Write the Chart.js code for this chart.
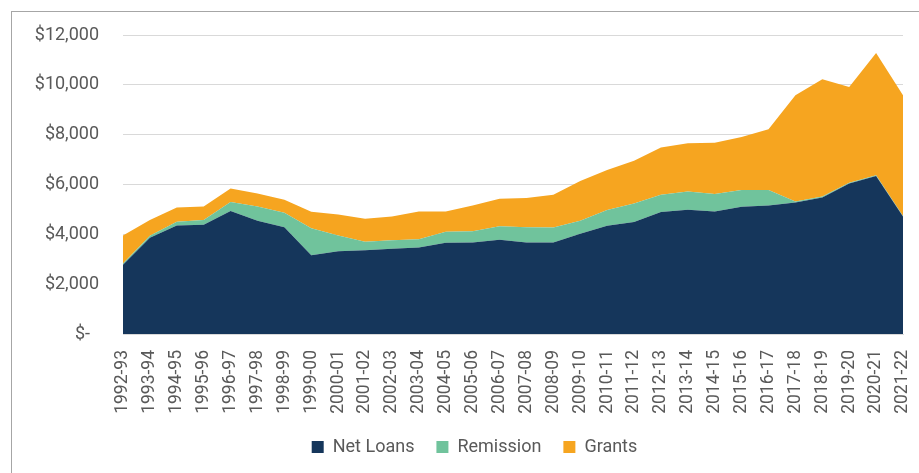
<!DOCTYPE html>
<html>
<head>
<meta charset="utf-8">
<script src="https://cdn.jsdelivr.net/npm/chart.js@4"></script>
<style>
  html, body { margin: 0; padding: 0; background: #ffffff; }
  #wrap { position: relative; width: 919px; height: 473px; overflow: hidden; }
  #frame { position: absolute; left: 11px; top: 11px; width: 1000px; height: 1000px;
           border: 1px solid #a6a6a6; box-sizing: border-box; }
  #chart { position: absolute; left: 0; top: 0; }
</style>
</head>
<body>
<div id="wrap">
  <div id="frame"></div>
  <canvas id="chart" width="919" height="473"></canvas>
</div>
<script>
// Academic years
const years = [
  '1992-93','1993-94','1994-95','1995-96','1996-97','1997-98','1998-99','1999-00',
  '2000-01','2001-02','2002-03','2003-04','2004-05','2005-06','2006-07','2007-08',
  '2008-09','2009-10','2010-11','2011-12','2012-13','2013-14','2014-15','2015-16',
  '2016-17','2017-18','2018-19','2019-20','2020-21','2021-22'
];

// Amounts in dollars (stacked: loans at the bottom, then remission, then grants)
const netLoans = [
  2780, 3860, 4350, 4380, 4940, 4550, 4280, 3160, 3320, 3360,
  3420, 3470, 3660, 3670, 3780, 3670, 3670, 4020, 4340, 4500,
  4900, 4990, 4920, 5110, 5160, 5280, 5480, 6040, 6340, 4720
];
const remission = [
  50, 80, 160, 200, 360, 570, 590, 1080, 630, 340,
  340, 330, 440, 450, 540, 610, 600, 530, 640, 740,
  690, 730, 700, 670, 620, 40, 40, 30, 30, 20
];
const grants = [
  1120, 640, 570, 540, 540, 520, 520, 670, 850, 930,
  960, 1120, 820, 1040, 1110, 1180, 1320, 1590, 1600, 1710,
  1890, 1940, 2060, 2130, 2440, 4260, 4700, 3840, 4910, 4840
];

// Y axis tick labels, accounting style ($- for zero)
const yTickLabels = ['$-  ', '$2,000', '$4,000', '$6,000', '$8,000', '$10,000', '$12,000'];

const textColor = '#595959';
const gridColor = '#d9d9d9';

function area(label, data, color, fill) {
  return {
    label: label,
    data: data,
    backgroundColor: color,
    borderColor: color,
    borderWidth: 0,
    pointRadius: 0,
    pointHoverRadius: 0,
    tension: 0,
    fill: fill
  };
}

// Nudges the legend row to the right so it sits centred under the whole frame
const legendShift = {
  id: 'legendShift',
  beforeDraw(chart) {
    const legend = chart.legend;
    if (!legend || legend._shifted) return;
    const draw = legend.draw;
    legend.draw = function (...args) {
      const ctx = this.ctx;
      ctx.save();
      ctx.translate(23, 0);
      draw.apply(this, args);
      ctx.restore();
    };
    legend._shifted = true;
  }
};

new Chart(document.getElementById('chart'), {
  type: 'line',
  data: {
    labels: years,
    datasets: [
      area('Net Loans', netLoans, '#15365b', 'origin'),
      area('Remission', remission, '#70c39c', '-1'),
      area('Grants', grants, '#f6a520', '-1')
    ]
  },
  plugins: [legendShift],
  options: {
    responsive: false,
    animation: false,
    layout: { padding: { top: 35, right: 16, bottom: 7, left: 0 } },
    scales: {
      x: {
        stacked: true,
        offset: false,
        grid: { display: false, drawTicks: false },
        border: { display: true, color: gridColor, width: 1 },
        ticks: {
          autoSkip: false,
          maxRotation: 90,
          minRotation: 90,
          padding: 16,
          color: textColor,
          font: { family: 'Roboto', size: 17.5 }
        },
        afterFit(scale) {
          scale.height = 82;
          scale.paddingLeft = 0;
          scale.paddingRight = 0;
        }
      },
      y: {
        stacked: true,
        min: 0,
        max: 12000,
        grid: { color: gridColor, lineWidth: 1, drawTicks: false },
        border: { display: false },
        ticks: {
          stepSize: 2000,
          padding: 24,
          color: textColor,
          font: { family: 'Roboto', size: 18 },
          callback: (value, index) => yTickLabels[index]
        },
        afterFit(scale) { scale.width = 123; }
      }
    },
    plugins: {
      tooltip: { enabled: false },
      legend: {
        position: 'bottom',
        labels: {
          boxWidth: 12,
          boxHeight: 12,
          padding: 22,
          color: textColor,
          font: { family: 'Roboto', size: 18 }
        }
      }
    }
  }
});
</script>
</body>
</html>
